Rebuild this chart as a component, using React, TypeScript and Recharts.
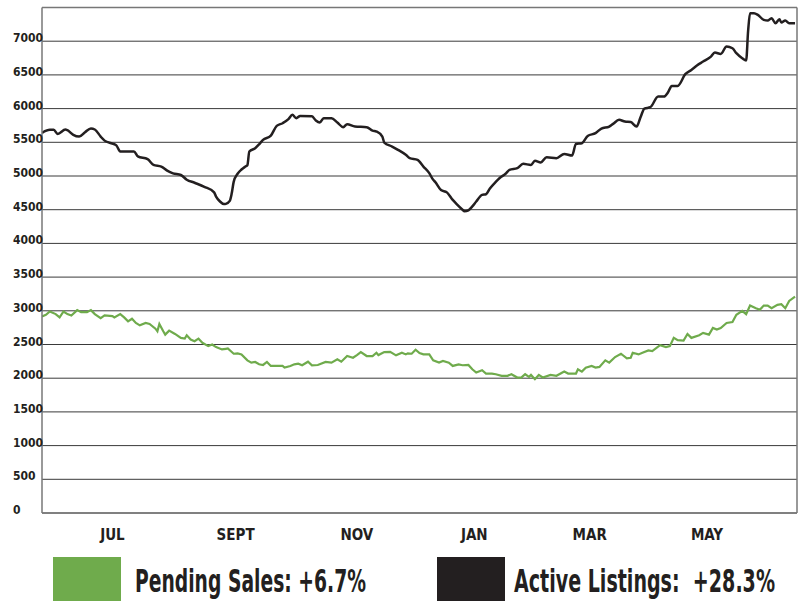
import React from "react";
import { LineChart, Line, XAxis, YAxis, CartesianGrid, ReferenceLine } from "recharts";

const FONT = "'Liberation Sans Narrow', 'DejaVu Sans Condensed', 'Arial Narrow', sans-serif";
const GREEN = "#6fab4c";
const BLACK = "#231f20";

// x is measured in days from the start of the period
const lastDay = 386;
const monthTicks = [36, 99, 161, 221, 280, 340];
const monthLabels = ["JUL", "SEPT", "NOV", "JAN", "MAR", "MAY"];
const valueTicks = [0, 500, 1000, 1500, 2000, 2500, 3000, 3500, 4000, 4500, 5000, 5500, 6000, 6500, 7000, 7500];

const activeListings: [number, number][] = [
  [0, 5640], [4, 5685], [6, 5685], [8, 5625], [12, 5690], [13, 5680], [16, 5610], [19, 5585],
  [22, 5650], [25, 5705], [27, 5690], [30, 5585], [32, 5525], [36, 5480], [38, 5455], [40, 5365],
  [47, 5365], [49, 5290], [54, 5250], [57, 5165], [61, 5140], [64, 5080], [67, 5040], [71, 5015],
  [74, 4945], [78, 4900], [83, 4840], [88, 4757], [89, 4695], [91, 4622], [93, 4583], [94, 4587],
  [96, 4631], [97, 4743], [98, 4913], [100, 5033], [102, 5096], [104, 5140], [105, 5160], [106, 5363],
  [109, 5413], [111, 5470], [113, 5536], [117, 5600], [120, 5744], [123, 5783], [126, 5843], [128, 5907],
  [130, 5858], [132, 5892], [138, 5885], [140, 5823], [142, 5793], [144, 5858], [148, 5855], [151, 5793],
  [154, 5724], [156, 5769], [160, 5734], [166, 5725], [169, 5674], [171, 5660], [174, 5585], [175, 5496],
  [179, 5437], [182, 5388], [186, 5314], [188, 5265], [192, 5240], [195, 5140], [198, 5042], [200, 4943],
  [201, 4913], [204, 4791], [207, 4757], [210, 4645], [212, 4583], [215, 4500], [216, 4476], [218, 4491],
  [220, 4549], [222, 4622], [225, 4719], [227, 4729], [229, 4816], [232, 4913], [234, 4971], [237, 5033],
  [239, 5091], [243, 5116], [246, 5180], [250, 5165], [252, 5225], [255, 5200], [258, 5279], [263, 5265],
  [267, 5328], [271, 5304], [273, 5477], [276, 5487], [279, 5595], [283, 5636], [286, 5704], [290, 5734],
  [292, 5773], [295, 5833], [298, 5808], [301, 5800], [304, 5734], [306, 5873], [308, 6000], [311, 6021],
  [315, 6178], [318, 6178], [320, 6238], [322, 6337], [325, 6337], [329, 6515], [332, 6574], [335, 6644],
  [338, 6698], [342, 6772], [344, 6831], [347, 6811], [350, 6920], [353, 6895], [355, 6822], [358, 6748],
  [360, 6713], [361, 7150], [362, 7413], [364, 7415], [366, 7390], [369, 7316], [371, 7306], [373, 7341],
  [375, 7267], [377, 7326], [378, 7277], [380, 7306], [382, 7267], [385, 7267],
];

const pendingSales: [number, number][] = [
  [0, 2917], [2, 2941], [4, 2990], [7, 2951], [9, 2902], [11, 2990], [13, 2951], [15, 2931],
  [18, 3010], [20, 2980], [23, 2980], [25, 3010], [27, 2951], [30, 2892], [32, 2931], [36, 2922],
  [37, 2902], [40, 2951], [42, 2902], [44, 2843], [46, 2882], [48, 2819], [50, 2784], [53, 2819],
  [55, 2804], [58, 2735], [59, 2696], [60, 2804], [62, 2696], [63, 2647], [65, 2706], [68, 2657],
  [71, 2598], [73, 2588], [74, 2637], [76, 2574], [78, 2549], [80, 2588], [82, 2525], [85, 2476],
  [87, 2500], [89, 2461], [92, 2427], [94, 2436], [95, 2441], [98, 2363], [100, 2368], [102, 2353],
  [105, 2265], [107, 2231], [109, 2241], [111, 2206], [113, 2196], [115, 2241], [117, 2182], [120, 2182],
  [123, 2182], [124, 2157], [127, 2182], [129, 2206], [131, 2216], [133, 2192], [136, 2245], [138, 2192],
  [141, 2196], [145, 2241], [148, 2231], [151, 2280], [153, 2245], [156, 2329], [159, 2304], [161, 2343],
  [163, 2387], [166, 2329], [169, 2329], [171, 2378], [172, 2343], [175, 2387], [178, 2392], [181, 2339],
  [184, 2378], [186, 2353], [187, 2368], [189, 2363], [191, 2422], [193, 2373], [195, 2353], [198, 2353],
  [200, 2265], [203, 2231], [205, 2255], [208, 2231], [210, 2182], [213, 2206], [215, 2192], [218, 2196],
  [220, 2133], [222, 2084], [225, 2118], [227, 2069], [230, 2069], [232, 2059], [235, 2035], [238, 2035],
  [240, 2059], [243, 2010], [245, 2010], [247, 2059], [249, 2020], [250, 2049], [252, 1986], [254, 2049],
  [256, 2010], [260, 2049], [263, 2035], [267, 2098], [269, 2069], [273, 2069], [274, 2133], [276, 2098],
  [278, 2157], [281, 2182], [283, 2157], [285, 2167], [288, 2265], [290, 2231], [293, 2314], [296, 2363],
  [299, 2294], [301, 2304], [302, 2378], [305, 2353], [307, 2378], [310, 2412], [312, 2402], [316, 2490],
  [319, 2461], [321, 2476], [323, 2598], [325, 2564], [328, 2559], [330, 2657], [332, 2598], [336, 2637],
  [338, 2672], [341, 2647], [343, 2745], [345, 2721], [347, 2745], [350, 2819], [353, 2833], [355, 2941],
  [358, 3000], [360, 2951], [362, 3078], [365, 3039], [367, 3015], [369, 3078], [371, 3078], [373, 3039],
  [376, 3088], [378, 3098], [380, 3039], [382, 3147], [385, 3211],
];

const toRows = (pts: [number, number][]) => pts.map(([day, value]) => ({ day, value }));

function ValueTick({ y, payload }: any) {
  if (payload.value === 7500) return <g />;
  return (
    <text x={13} y={y + 1} fontSize={12} fontWeight={700} fontFamily={FONT} fill={BLACK}>
      {payload.value}
    </text>
  );
}

function MonthTick({ x, y, payload }: any) {
  const i = monthTicks.indexOf(payload.value);
  return (
    <text x={x} y={y + 25} textAnchor="middle" fontSize={15} fontWeight={700} fontFamily={FONT} fill={BLACK}>
      {monthLabels[i]}
    </text>
  );
}

// condensed legend label: fit to width, then squeeze horizontally
function LegendLabel({ x, width, children }: { x: number; width: number; children: string }) {
  const squeeze = 0.7;
  return (
    <g transform={`translate(${x} 592) scale(${squeeze} 1)`}>
      <text x={0} y={0} fontSize={32} fontWeight={700} fontFamily={FONT} fill={BLACK}
        textLength={width / squeeze} lengthAdjust="spacingAndGlyphs" style={{ whiteSpace: "pre" }}>
        {children}
      </text>
    </g>
  );
}

export default function App() {
  return (
    <div style={{ position: "absolute", left: 0, top: 0, width: 804, height: 601, background: "#fff", overflow: "hidden" }}>
      <LineChart width={804} height={560} margin={{ top: 7.5, right: 7, left: 0, bottom: 7 }}>
        <CartesianGrid vertical={false} stroke="#3a3a3a" strokeWidth={1} />
        <XAxis
          dataKey="day"
          type="number"
          domain={[0, lastDay]}
          ticks={monthTicks}
          tick={<MonthTick />}
          tickLine={false}
          tickSize={0}
          height={40}
          axisLine={{ stroke: "#777", strokeWidth: 1.5 }}
          allowDataOverflow
        />
        <YAxis
          type="number"
          domain={[0, 7500]}
          ticks={valueTicks}
          tick={<ValueTick />}
          tickLine={false}
          width={42}
          axisLine={{ stroke: "#777", strokeWidth: 1.5 }}
        />
        <ReferenceLine y={7500} stroke="#777" strokeWidth={1.5} />
        <ReferenceLine x={lastDay} stroke="#777" strokeWidth={1.5} />
        <Line data={toRows(pendingSales)} dataKey="value" type="linear" stroke={GREEN} strokeWidth={2.2} dot={false} isAnimationActive={false} />
        <Line data={toRows(activeListings)} dataKey="value" type="monotone" stroke={BLACK} strokeWidth={2.5} dot={false} isAnimationActive={false} />
      </LineChart>
      <svg width={804} height={601} style={{ position: "absolute", left: 0, top: 0, pointerEvents: "none" }}>
        <rect x={53} y={557} width={68} height={44} fill={GREEN} />
        <LegendLabel x={135} width={231}>Pending Sales: +6.7%</LegendLabel>
        <rect x={437} y={557} width={68} height={44} fill={BLACK} />
        <LegendLabel x={514} width={261}>{"Active Listings:  +28.3%"}</LegendLabel>
      </svg>
    </div>
  );
}
